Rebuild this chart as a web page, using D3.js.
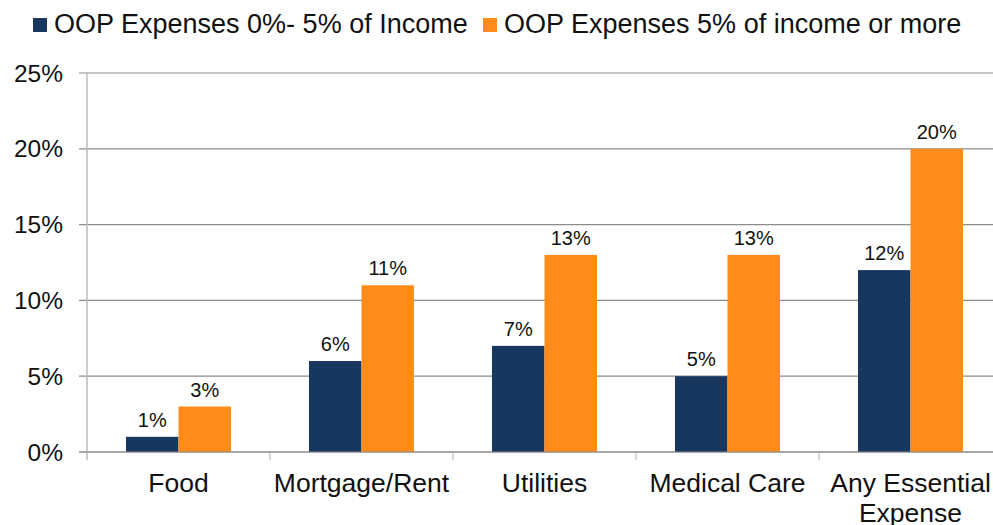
<!DOCTYPE html>
<html><head><meta charset="utf-8">
<script src="https://cdn.jsdelivr.net/npm/d3@7"></script>
<style>body{margin:0;background:#fff}svg{display:block;font-family:"Liberation Sans",Arial,sans-serif}</style>
</head><body><svg id="c" width="993" height="525"></svg>
<script>
const categories = ["Food", "Mortgage/Rent", "Utilities", "Medical Care", "Any Essential Expense"];
const seriesNames = ["OOP Expenses 0%- 5% of Income", "OOP Expenses 5% of income or more"];
const lowIncomeShare = [1, 6, 7, 5, 12];
const highIncomeShare = [3, 11, 13, 13, 20];
const yTicks = [0, 5, 10, 15, 20, 25];
const colors = ["#17375E", "#FF8C1A"];

(function(){
const svg = d3.select("#c");
const pLeft = 87, pRight = 1002, pTop = 73, pBottom = 452;
const x = d3.scaleBand().domain(categories).range([pLeft, pRight]).paddingInner(0.426).paddingOuter(0.213);
const xs = d3.scaleBand().domain([0, 1]).range([0, x.bandwidth()]);
const y = d3.scaleLinear().domain([0, 25]).range([pBottom, pTop]);

svg.append("g").selectAll("line").data(yTicks).join("line")
  .attr("x1", 79).attr("x2", 993).attr("y1", d => y(d)).attr("y2", d => y(d))
  .attr("stroke", "#8c8c8c").attr("stroke-width", 1.2);
svg.append("line").attr("x1", pLeft).attr("x2", pLeft).attr("y1", pTop).attr("y2", pBottom + 8)
  .attr("stroke", "#bdbdbd").attr("stroke-width", 1.5);
svg.append("g").selectAll("text").data(yTicks).join("text")
  .attr("x", 63).attr("y", d => y(d) + 8.5).attr("text-anchor", "end")
  .attr("font-size", 24.5).attr("fill", "#111").text(d => d + "%");

const tickXs = categories.slice(1).map(c => x(c) - x.step() * x.paddingInner() / 2);
svg.append("g").selectAll("line").data(tickXs).join("line")
  .attr("x1", d => d).attr("x2", d => d).attr("y1", pBottom).attr("y2", pBottom + 8)
  .attr("stroke", "#bdbdbd").attr("stroke-width", 1.2);

const series = [lowIncomeShare, highIncomeShare];
series.forEach((vals, si) => {
  const g = svg.append("g");
  g.selectAll("rect").data(categories).join("rect")
    .attr("x", c => x(c) + xs(si)).attr("width", xs.bandwidth())
    .attr("y", (c, i) => y(vals[i])).attr("height", (c, i) => y(0) - y(vals[i]))
    .attr("fill", colors[si]);
  g.selectAll("text").data(categories).join("text")
    .attr("x", c => x(c) + xs(si) + xs.bandwidth() / 2)
    .attr("y", (c, i) => y(vals[i]) - 10)
    .attr("text-anchor", "middle").attr("font-size", 20).attr("fill", "#111")
    .text((c, i) => vals[i] + "%");
});
svg.append("line").attr("x1", 79).attr("x2", 993).attr("y1", pBottom).attr("y2", pBottom)
  .attr("stroke", "#8c8c8c").attr("stroke-width", 1.2);

const wrap = {"Any Essential Expense": ["Any Essential", "Expense"]};
categories.forEach(c => {
  const lines = wrap[c] || [c];
  const t = svg.append("text").attr("text-anchor", "middle").attr("font-size", 26.5).attr("fill", "#111");
  lines.forEach((l, i) => t.append("tspan").attr("x", x(c) + x.bandwidth() / 2).attr("y", 492 + i * 30).text(l));
});

const legX = [33, 483];
seriesNames.forEach((n, i) => {
  svg.append("rect").attr("x", legX[i]).attr("y", 18).attr("width", 14).attr("height", 14).attr("fill", colors[i]);
  svg.append("text").attr("x", legX[i] + 21).attr("y", 33).attr("font-size", 27).attr("fill", "#111").text(n);
});
})();
</script></body></html>
